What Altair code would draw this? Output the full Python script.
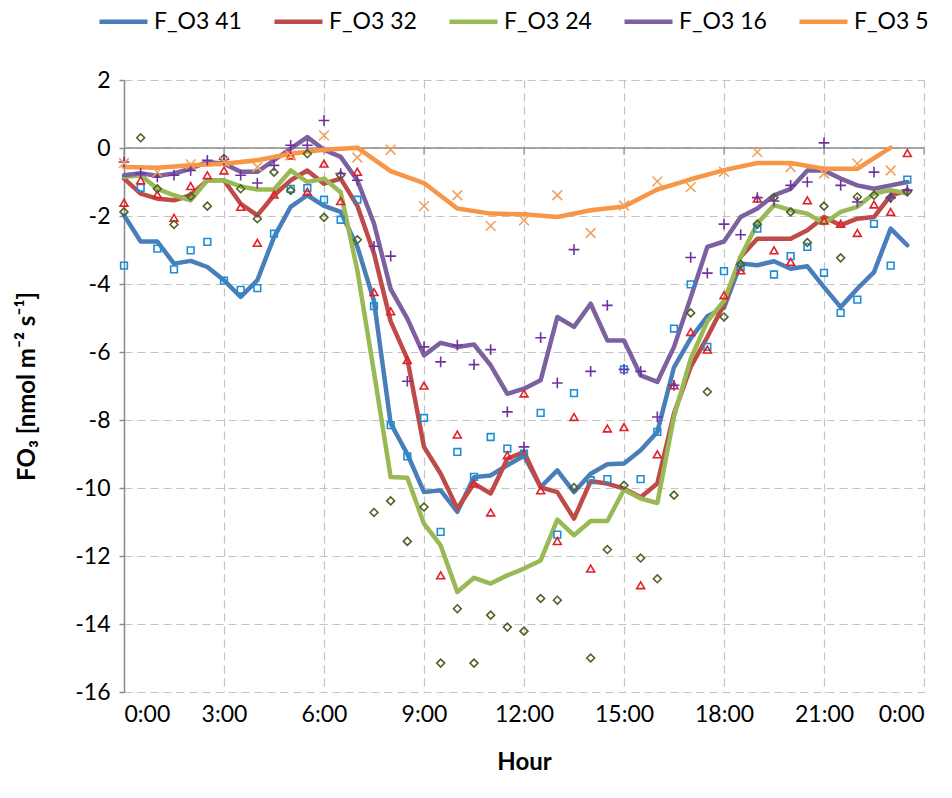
import altair as alt
import pandas as pd

# Sampling times in hours of the day
half_hours = [i * 0.5 for i in range(48)]   # 0:00 ... 23:30
whole_hours = list(range(24))               # 0:00 ... 23:00
hour_ticks = [0, 3, 6, 9, 12, 15, 18, 21, 24]
flux_ticks = [-16, -14, -12, -10, -8, -6, -4, -2, 0, 2]

series_names = ["F_O3 41", "F_O3 32", "F_O3 24", "F_O3 16", "F_O3 5"]

# Smoothed ozone flux (lines), nmol m-2 s-1
f41_line = [-1.98, -2.75, -2.75, -3.40, -3.32, -3.50, -3.89, -4.38, -3.89, -2.62, -1.73, -1.39,
            -1.70, -1.88, -2.90, -4.50, -8.10, -9.00, -10.12, -10.07, -10.70, -9.68, -9.63, -9.33,
            -9.05, -9.97, -9.48, -10.12, -9.58, -9.30, -9.28, -8.89, -8.35, -6.45, -5.60, -4.95,
            -4.70, -3.40, -3.45, -3.33, -3.55, -3.48, -4.09, -4.68, -4.14, -3.65, -2.37, -2.86]
f32_line = [-0.90, -1.34, -1.49, -1.54, -1.39, -0.95, -0.95, -1.64, -1.98, -1.39, -0.95, -0.66,
            -1.05, -0.90, -1.70, -3.10, -5.10, -6.20, -8.79, -9.58, -10.60, -9.87, -10.16, -9.14,
            -8.94, -9.98, -10.12, -10.90, -9.80, -9.87, -10.02, -10.27, -9.87, -7.81, -6.44, -5.56,
            -4.60, -3.20, -2.67, -2.67, -2.67, -2.42, -2.03, -2.27, -2.08, -2.03, -1.39, -1.25]
f24_line = [-0.85, -0.80, -1.20, -1.39, -1.54, -0.95, -0.95, -1.13, -1.22, -1.22, -0.66, -1.00,
            -0.90, -1.30, -3.60, -6.60, -9.68, -9.70, -11.05, -11.69, -13.06, -12.64, -12.81, -12.57,
            -12.37, -12.13, -10.93, -11.39, -10.97, -10.97, -10.05, -10.31, -10.44, -7.90, -6.20, -5.10,
            -4.50, -3.20, -2.22, -1.68, -1.83, -1.93, -2.22, -1.88, -1.73, -1.34, -1.24, -1.34]
f16_line = [-0.80, -0.74, -0.82, -0.75, -0.61, -0.41, -0.46, -0.70, -0.70, -0.36, -0.02, 0.32,
            -0.05, -0.26, -0.95, -2.22, -4.15, -5.02, -6.10, -5.73, -5.85, -5.78, -6.39, -7.23,
            -7.08, -6.83, -4.97, -5.26, -4.58, -5.66, -5.66, -6.69, -6.88, -5.85, -4.40, -2.91,
            -2.75, -2.03, -1.78, -1.39, -1.20, -0.66, -0.66, -0.90, -1.10, -1.20, -1.10, -1.00]
f5_line = [-0.56, -0.58, -0.51, -0.46, -0.36, -0.17, -0.05, 0.01, -0.68, -1.03, -1.78, -1.93,
           -1.95, -2.03, -1.83, -1.72, -1.22, -0.92, -0.65, -0.44, -0.44, -0.61, -0.61, 0.01]

# Individual flux observations (markers)
f41_obs = [-3.46, -1.17, -2.96, -3.57, -3.01, -2.76, -3.90, -4.17, -4.12, -2.52, -1.20, -1.18,
           -1.52, -2.11, -1.52, -4.65, -8.15, -9.07, -7.94, -11.29, -8.94, -9.67, -8.50, -8.84,
           -8.99, -7.79, -11.37, -7.21, -9.77, -9.74, -6.51, -9.74, -8.35, -5.31, -4.01, -5.85,
           -3.62, -3.50, -2.37, -3.72, -3.18, -2.91, -3.67, -4.85, -4.46, -2.23, -3.46, -0.93]
f32_obs = [-1.61, -0.95, -1.37, -2.05, -1.12, -0.80, -0.66, -1.73, -2.79, -1.37, -0.22, -1.29,
           -0.46, -1.56, -0.70, -4.24, -4.80, -6.24, -6.99, -12.57, -8.43, -9.87, -10.72, -9.04,
           -7.22, -10.07, -11.56, -7.91, -12.37, -8.25, -8.21, -12.86, -9.01, -6.98, -5.41, -5.93,
           -4.33, -3.60, -1.49, -3.01, -3.35, -1.54, -2.13, -2.23, -2.50, -1.66, -1.88, -0.15]
f24_obs = [-1.88, 0.30, -1.20, -2.25, -1.42, -1.71, -0.31, -1.20, -2.08, -0.71, -1.25, -0.17,
           -2.04, -0.80, -2.70, -10.72, -10.38, -11.57, -10.56, -15.15, -13.55, -15.15, -13.74, -14.09,
           -14.21, -13.25, -13.30, -9.99, -15.00, -11.81, -9.92, -12.06, -12.67, -10.21, -4.85, -7.17,
           -4.97, -3.42, -2.24, -1.46, -1.88, -2.78, -1.71, -3.23, -1.44, -1.39, -1.46, -1.29]
f16_obs = [-0.41, -0.75, -0.85, -0.80, -0.66, -0.36, -0.34, -0.80, -1.03, -0.51, 0.08, 0.08,
           0.81, -0.75, -0.95, -2.89, -3.18, -6.86, -5.85, -6.29, -5.80, -6.37, -5.93, -7.76,
           -8.79, -5.58, -6.91, -2.99, -6.57, -4.63, -6.51, -6.57, -7.91, -6.98, -3.22, -3.68,
           -2.24, -2.55, -1.46, -1.56, -1.10, -1.00, 0.15, -1.10, -1.59, -0.71, -1.46, -1.24]
f5_obs = [-0.44, -0.71, -0.48, -0.40, -0.56, -0.22, 0.37, -0.28, -0.05, -1.71, -1.39, -2.29,
          -2.13, -1.39, -2.50, -1.69, -0.98, -1.15, -0.70, -0.12, -0.56, -0.75, -0.46, -0.66]

# Styling per series
line_colors = ["#4A7EBB", "#BE4B48", "#98B954", "#7D60A0", "#F79646"]
marker_colors = ["#1C8ED6", "#E2202A", "#4F6228", "#7030A0", "#F4A05A"]
marker_shapes = ["square", "triangle-up", "diamond",
                 "M-1,0L1,0M0,-1L0,1", "M-1,-1L1,1M-1,1L1,-1"]
marker_sizes = [45, 62, 62, 115, 95]

times = [half_hours, half_hours, half_hours, half_hours, whole_hours]
lines = [f41_line, f32_line, f24_line, f16_line, f5_line]
obs = [f41_obs, f32_obs, f24_obs, f16_obs, f5_obs]

line_rows = []
for k, name in enumerate(series_names):
    for t, v in zip(times[k], lines[k]):
        line_rows.append({"series": name, "hour": t, "flux": v, "k": k})
line_df = pd.DataFrame(line_rows)
tick_df = pd.DataFrame({"hour": hour_ticks})
zero_df = pd.DataFrame({"flux": [0]})

FONT = "Lato"
GRID = "#C3C3C3"
AXIS = "#8C8C8C"
LABEL_SIZE = 23
TITLE_SIZE = 24

x_enc = alt.X(
    "hour:Q",
    scale=alt.Scale(domain=[0, 24], nice=False, zero=False),
    axis=alt.Axis(
        values=hour_ticks,
        labelExpr="(datum.value % 24) + ':00'",
        title="Hour",
        grid=True, gridDash=[8, 5], gridColor=GRID, gridWidth=1.2,
        domain=False, ticks=False,
        labelPadding=11, labelFontSize=LABEL_SIZE, labelColor="#000000",
        titleFontSize=TITLE_SIZE, titleFontWeight="bold", titleColor="#000000",
        titleY=70, titleBaseline="middle",
    ),
)
y_enc = alt.Y(
    "flux:Q",
    scale=alt.Scale(domain=[-16, 2], nice=False, zero=False),
    axis=alt.Axis(
        values=flux_ticks,
        labelExpr="datum.value < 0 ? '-' + abs(datum.value) : '' + datum.value",
        title="FO\u2083 [nmol m\u207b\u00b2 s\u207b\u00b9]",
        grid=True, gridDash=[8, 5], gridColor=GRID, gridWidth=1.2,
        domain=True, domainColor=AXIS, domainWidth=1.5,
        ticks=True, tickColor=AXIS, tickSize=5, tickWidth=1.5,
        labelPadding=9, labelFontSize=LABEL_SIZE, labelColor="#000000",
        titleFontSize=TITLE_SIZE, titleFontWeight="bold", titleColor="#000000",
        titleX=-97, titleY=306, titleAlign="center", titleBaseline="middle",
    ),
)

zero_line = alt.Chart(zero_df).mark_rule(color=AXIS, strokeWidth=1.5).encode(y=y_enc)
zero_ticks = alt.Chart(tick_df).mark_tick(
    orient="vertical", color=AXIS, size=7, thickness=1.5, yOffset=3.5
).encode(x=x_enc, y=alt.datum(0))

flux_lines = alt.Chart(line_df).mark_line(
    strokeWidth=4.5, strokeJoin="round", strokeCap="round"
).encode(
    x=x_enc,
    y=y_enc,
    color=alt.Color(
        "series:N",
        scale=alt.Scale(domain=series_names, range=line_colors),
        legend=alt.Legend(
            title=None, orient="none", direction="horizontal",
            legendX=-27, legendY=-85, padding=0,
            symbolType="stroke", symbolSize=2304, symbolStrokeWidth=4.5,
            labelFontSize=LABEL_SIZE, labelColor="#000000", labelOffset=4,
            columnPadding=23,
        ),
    ),
    order=alt.Order("k:Q"),
)

# One marker layer per station, each with its own fixed symbol
marker_layers = []
for k, name in enumerate(series_names):
    df = pd.DataFrame({"hour": times[k], "flux": obs[k]})
    marker_layers.append(
        alt.Chart(df).mark_point(
            shape=marker_shapes[k], color=marker_colors[k], size=marker_sizes[k],
            filled=False, strokeWidth=1.6, opacity=1,
        ).encode(x=x_enc, y=y_enc)
    )

chart = alt.layer(zero_line, zero_ticks, flux_lines, *marker_layers).properties(
    width=800,
    height=612,
    padding={"left": 124, "top": 80, "right": 28, "bottom": 106},
    autosize=alt.AutoSizeParams(type="none"),
).configure(font=FONT).configure_view(stroke=None).configure_axis(
    labelFont=FONT, titleFont=FONT
).configure_legend(labelFont=FONT)

chart.save("out.html", embed_options={"renderer": "svg", "actions": False})
